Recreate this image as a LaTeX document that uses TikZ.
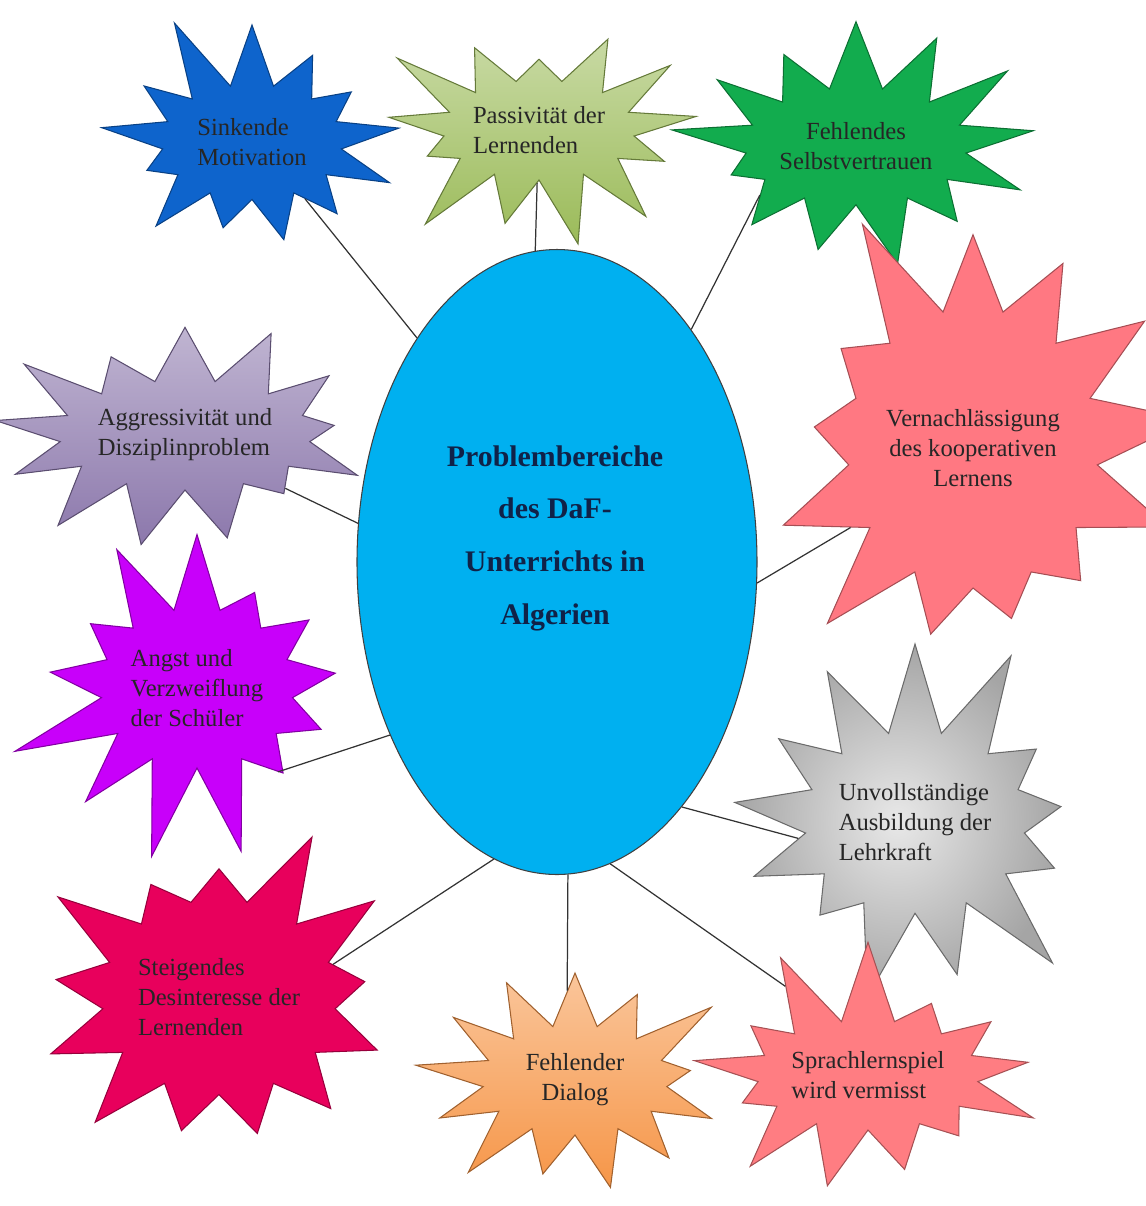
\documentclass[tikz,border=0pt]{standalone}
\usepackage{fontspec}
\setmainfont{Liberation Serif}
\usetikzlibrary{shapes.geometric,shapes.symbols}
\definecolor{hubcyan}{RGB}{0,176,240}
\definecolor{hubtext}{RGB}{16,34,72}
\definecolor{sinkblue}{RGB}{14,100,204}
\definecolor{passolive}{RGB}{155,187,89}
\definecolor{fehlgreen}{RGB}{18,172,78}
\definecolor{vernrose}{RGB}{255,120,130}
\definecolor{aggrlila}{RGB}{140,120,172}
\definecolor{angstpink}{RGB}{200,0,250}
\definecolor{unvgrey}{RGB}{165,165,165}
\definecolor{steigred}{RGB}{232,0,92}
\definecolor{dialorange}{RGB}{246,150,72}
\definecolor{sprachrose}{RGB}{255,125,130}
\tikzset{
  burst/.style={starburst, starburst points=13, starburst point height=1.6cm,
    draw=#1!65!black, fill=#1, line width=0.6pt, inner sep=1pt,
    font=\fontsize{14}{17}\selectfont, text=black!85},
  hub/.style={ellipse, draw=black!75, fill=hubcyan, line width=0.6pt,
    minimum width=8cm, minimum height=12.5cm},
  link/.style={draw=black!80, line width=0.7pt}
}

\begin{document}
\begin{tikzpicture}
  \useasboundingbox (0,0) rectangle (22.92,-24.12);

  \node [hub] (centre) at (11.14,-11.24) {};
  \node [align=center, text=hubtext, font=\bfseries\fontsize{17}{30}\selectfont]
    (title) at (11.1,-10.76) {Problembereiche\\des DaF-\\Unterrichts in\\Algerien};

  \node [burst=sinkblue, minimum width=6.8cm, minimum height=5.5cm, random starburst=11,
    align=left] (sink) at (5.04,-2.84) {Sinkende\\Motivation};
  \node [burst=passolive, top color=passolive!55!white, bottom color=passolive,
    minimum width=6.95cm, minimum height=5.2cm, random starburst=23, align=left]
    (pass) at (10.78,-2.6) {Passivität der\\Lernenden};
  \node [burst=fehlgreen, minimum width=6.75cm, minimum height=5.55cm, random starburst=37,
    align=center] (fehl) at (17.12,-2.92) {Fehlendes\\Selbstvertrauen};
  \node [burst=vernrose, starburst point height=2.4cm, minimum width=7.45cm,
    minimum height=10.4cm, random starburst=5, align=center]
    (vern) at (19.46,-8.96) {Vernachlässigung\\des kooperativen\\Lernens};
  \node [burst=aggrlila, top color=aggrlila!55!white, bottom color=aggrlila,
    minimum width=7.55cm, minimum height=5.4cm, random starburst=41, align=left]
    (aggr) at (3.7,-8.7) {Aggressivität und\\Disziplinproblem};
  \node [burst=steigred, starburst point height=2cm, minimum width=7.8cm,
    minimum height=7.9cm, random starburst=59, align=left]
    (steig) at (4.38,-19.94) {Steigendes\\Desinteresse der\\Lernenden};
  \node [burst=angstpink, starburst point height=2cm, minimum width=6.8cm,
    minimum height=7.2cm, random starburst=67, align=left]
    (angst) at (3.94,-13.76) {Angst und\\Verzweiflung\\der Schüler};
  \node [burst=unvgrey, inner color=unvgrey!25!white, outer color=unvgrey,
    starburst point height=2cm, minimum width=6.9cm, minimum height=7.65cm,
    random starburst=73, align=left]
    (unv) at (18.3,-16.44) {Unvollständige\\Ausbildung der\\Lehrkraft};
  \node [burst=sprachrose, minimum width=6.75cm, minimum height=5.4cm, random starburst=89,
    align=left] (sprach) at (17.36,-21.5) {Sprachlernspiel\\wird vermisst};
  \node [burst=dialorange, top color=dialorange!55!white, bottom color=dialorange,
    minimum width=6.9cm, minimum height=5.4cm, random starburst=97, align=center]
    (dial) at (11.5,-21.6) {Fehlender\\Dialog};

  % connectors from the hub to every burst
  \draw [link] (centre.122) -- (sink.-47);
  \draw [link] (centre.94) -- (pass.-92);
  \draw [link] (centre.60) -- (fehl.207);
  \draw [link] (centre.-6) -- (vern.213);
  \draw [link] (centre.169) -- (aggr.-28);
  \draw [link] (centre.226) -- (angst.-46);
  \draw [link] (centre.-63) -- (unv.188);
  \draw [link] (centre.258) -- (steig.16);
  \draw [link] (centre.-88) -- (dial.95);
  \draw [link] (centre.-80) -- (sprach.133);
\end{tikzpicture}
\end{document}
